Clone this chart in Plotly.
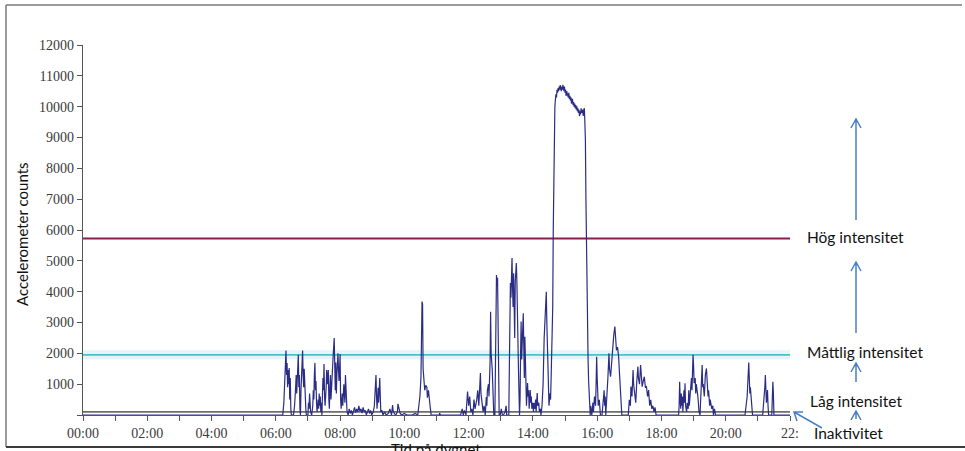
import plotly.graph_objects as go

# ---------------- data (time of day, accelerometer counts) ----------------
night_times = ["00:00", "06:12"]
night_counts = [0, 0]

morning_times = ["06:13","06:15","06:17","06:19","06:20","06:21","06:22","06:23","06:24","06:25","06:26","06:27","06:28","06:29",
                 "06:33","06:35","06:37","06:38","06:39","06:41","06:42","06:43","06:44","06:45","06:46","06:47","06:48","06:50",
                 "06:51","06:52","06:53","06:54","06:55","06:56","06:57","07:00","07:01","07:02","07:03","07:04","07:05","07:07",
                 "07:09","07:10","07:11","07:12","07:13","07:14","07:15","07:16","07:17","07:19","07:20","07:21","07:22","07:23",
                 "07:24","07:25","07:26","07:27","07:28","07:29","07:30","07:31","07:32","07:34","07:35","07:36","07:37","07:38",
                 "07:39","07:40","07:41","07:42","07:43","07:45","07:47","07:49","07:50","07:51","07:52","07:53","07:54","07:56",
                 "07:57","07:58","07:59","08:00","08:01","08:02","08:04","08:05","08:07","08:09","08:10","08:11","08:12","08:13","08:15"]
morning_counts = [0,400,1500,2090,1300,1690,900,1460,1000,1520,500,1200,200,0,
                  0,300,900,1300,700,1500,1950,900,1300,200,0,800,1600,2090,
                  1300,900,1500,700,1000,200,0,0,400,200,700,300,100,0,
                  300,800,500,1300,1690,800,1100,400,100,500,200,700,300,600,
                  100,400,0,600,1200,800,1650,600,300,900,1460,1000,1200,1460,
                  500,200,900,1300,500,1400,1900,2500,1600,800,1700,700,1300,2000,
                  1500,1100,1450,1980,500,200,700,300,1000,400,1300,900,300,100,0]

late_morning_times = ["08:17","08:19","08:21","08:23","08:25","08:27","08:29","08:31","08:33","08:35","08:37","08:39","08:41",
                      "08:43","08:45","08:47","08:49","08:51","08:53","08:55","08:57","08:59",
                      "09:02","09:04","09:05","09:07","09:08","09:09","09:11","09:12","09:14","09:15","09:16","09:18","09:20",
                      "09:23","09:26","09:30","09:33","09:36","09:38","09:39","09:41","09:44","09:47","09:48","09:50","09:52",
                      "09:55","10:00","10:05","10:15","10:20","10:25",
                      "10:27","10:29","10:31","10:33","10:34","10:35","10:37","10:38","10:40","10:42","10:43","10:45","10:48",
                      "10:50","11:05","11:06","11:07","11:45"]
late_morning_counts = [200,50,150,0,100,250,80,200,100,300,120,200,60,
                       250,100,150,0,100,200,50,150,0,
                       100,300,800,1300,600,200,880,400,1200,700,100,150,0,
                       100,0,50,200,0,320,150,50,0,100,360,200,60,
                       0,50,0,0,50,0,
                       300,600,1230,3680,3600,1500,1040,800,960,900,560,800,300,
                       0,0,60,0,0]

midday_times = ["11:48","11:50","11:52","11:55","11:58","12:00","12:02","12:04","12:06","12:08","12:10","12:12","12:15",
                "12:17","12:19","12:21","12:22","12:23","12:25","12:27","12:29","12:31","12:33","12:34","12:35","12:37",
                "12:38","12:40","12:41","12:42","12:44","12:46","12:47","12:49","12:50","12:51","12:52","12:53","12:54",
                "12:55","12:56","12:57","12:59","13:01","13:03","13:05","13:08","13:10","13:11","13:15","13:16","13:17",
                "13:18","13:19","13:20","13:21","13:22","13:23","13:24","13:25","13:26","13:27","13:28","13:29","13:30",
                "13:31","13:33","13:35","13:36","13:37","13:38","13:39","13:40","13:42","13:43","13:44","13:45","13:46",
                "13:47","13:48","13:50","13:51","13:52","13:53","13:55","13:56","13:57","13:58","14:00","14:01","14:02",
                "14:04","14:05","14:06","14:08","14:09","14:11","14:12","14:14","14:15","14:17","14:19","14:21","14:23",
                "14:25","14:26","14:27","14:28","14:29","14:30","14:32","14:33","14:34","14:35","14:36","14:37","14:38","14:39"]
midday_counts = [200,0,150,0,760,300,600,100,200,0,500,200,480,
                 800,300,970,1360,700,400,100,300,0,580,300,800,1000,
                 600,1690,3350,2000,1500,800,0,0,1500,3500,4540,4200,4450,
                 3000,1000,0,0,200,0,0,100,300,0,0,1500,3000,
                 4280,3800,4800,5090,4100,3500,4600,3800,2500,4300,4650,4930,4400,
                 3000,1500,0,500,2000,3030,1800,2600,3300,2200,1200,2540,1500,
                 600,300,1040,600,800,200,810,400,600,200,400,100,390,
                 200,500,100,710,300,400,100,200,0,300,1000,2500,3500,
                 4000,3000,2110,1200,600,300,700,500,1200,1800,2220,3500,6000,8500]

plateau_times = ["14:40","14:41","14:42","14:43","14:44","14:45","14:46","14:47","14:48","14:49","14:50","14:51","14:52",
                 "14:53","14:54","14:55","14:56","14:57","14:58","14:59","15:00","15:01","15:02","15:03","15:04","15:05",
                 "15:06","15:07","15:08","15:09","15:10","15:11","15:12","15:13","15:14","15:15","15:16","15:17","15:18",
                 "15:19","15:20","15:21","15:22","15:23","15:24","15:25","15:26","15:27","15:28","15:29","15:30","15:31",
                 "15:32","15:33","15:34","15:35","15:36","15:37","15:38","15:39","15:40","15:41","15:42","15:43","15:44",
                 "15:45","15:46","15:47"]
plateau_counts = [9360,10000,10230,10400,10300,10550,10450,10600,10500,10650,10550,10700,10600,
                  10500,10650,10550,10710,10600,10500,10650,10450,10550,10350,10500,10400,10390,
                  10300,10450,10250,10350,10200,10300,10100,10250,10230,10050,10150,10000,10100,
                  9950,10050,9900,10010,9850,9950,9800,9900,9690,9850,9750,9950,9800,
                  9900,9850,9700,9900,9950,9500,8930,7000,5140,3500,2500,1790,1100,
                  600,300,0]

afternoon_times = ["15:48","15:50","15:52","15:53","15:55","15:57","15:58","15:59","16:00","16:01","16:02","16:04","16:05",
                   "16:06","16:09","16:11","16:13","16:14","16:15","16:16","16:18","16:20","16:22","16:23","16:25","16:27",
                   "16:29","16:31","16:33","16:34","16:35","16:36","16:38","16:40","16:42","16:44","16:46","16:58","17:00",
                   "17:02","17:03","17:05","17:07","17:08","17:10","17:12","17:14","17:16","17:17","17:19","17:21","17:22",
                   "17:24","17:26","17:28","17:30","17:32","17:34","17:36","17:38","17:40","17:42","17:44","17:46","17:48","17:50"]
afternoon_counts = [300,0,400,100,600,300,1000,1890,1200,810,300,490,100,
                    0,0,400,800,300,600,0,500,1200,2000,1500,1240,1800,
                    2220,2600,2870,2500,2330,2100,2200,1890,1240,600,0,0,490,
                    300,920,600,1460,1000,600,400,1100,1570,1200,1000,1620,1300,
                    920,1100,1240,900,920,600,810,300,490,200,300,100,250,0]

evening_times = ["18:32","18:33","18:34","18:35","18:36","18:37","18:38","18:39","18:40","18:42","18:43","18:44","18:45",
                 "18:47","18:48","18:50","18:51","18:52","18:54","18:56","18:57","18:59","19:00","19:01","19:03","19:04",
                 "19:05","19:07","19:08","19:09","19:10","19:12","19:14","19:16","19:17","19:18","19:20","19:22","19:24",
                 "19:25","19:26","19:27","19:28","19:30","19:31","19:33","19:34","19:36","19:37","19:39","19:41"]
evening_counts = [0,300,1080,500,200,700,300,600,100,800,400,1030,300,
                  100,390,200,800,300,700,1200,800,1950,1600,1030,1200,700,
                  1000,810,600,390,100,0,600,1620,900,1000,600,1300,1510,
                  1000,1100,600,800,300,500,300,200,300,0,200,0]

night2_times = ["20:36","20:38","20:40","20:43","20:44","20:45","20:46","20:48","20:50","21:09","21:11","21:13","21:14",
                "21:15","21:16","21:17","21:18","21:19","21:20","21:26","21:27","21:28","21:29","21:30","22:00"]
night2_counts = [0,300,600,1700,1300,700,900,300,0,0,400,900,1300,
                 1000,400,600,810,300,0,0,500,1080,700,0,0]

# thresholds (counts per minute)
threshold_values = [100, 1952, 5725]
threshold_colors = ["#6e6e6e", "#45c3cc", "#8c1d4e"]

x_tick_values = [0, 2, 4, 6, 8, 10, 12, 14, 16, 18, 20, 22]
x_tick_labels = ["00:00", "02:00", "04:00", "06:00", "08:00", "10:00", "12:00",
                 "14:00", "16:00", "18:00", "20:00", "22:"]
y_tick_values = [0, 1000, 2000, 3000, 4000, 5000, 6000, 7000, 8000, 9000, 10000, 11000, 12000]
y_tick_labels = [""] + [str(v) for v in y_tick_values[1:]]

zone_labels = ["Hög intensitet", "Måttlig intensitet", "Låg intensitet", "Inaktivitet"]

# ---------------- build ----------------
all_times = (night_times + morning_times + late_morning_times + midday_times +
             plateau_times + afternoon_times + ["18:00"] + evening_times + ["20:00"] + night2_times)
all_counts = (night_counts + morning_counts + late_morning_counts + midday_counts +
              plateau_counts + afternoon_counts + [0] + evening_counts + [0] + night2_counts)

def to_hours(t):
    h, m = t.split(":")
    return int(h) + int(m) / 60.0

xs = [to_hours(t) for t in all_times]

W, H = 965, 451
L, R, T, B = 83, 175, 45, 36
PW, PH = W - L - R, H - T - B

def px(x):
    return (x - L) / PW

def py(y):
    return (H - B - y) / PH

fig = go.Figure()

# soft halo around moderate threshold
fig.add_trace(go.Scatter(x=[0, 22], y=[threshold_values[1]] * 2, mode="lines",
                         line=dict(color="rgba(200,228,240,0.45)", width=9),
                         hoverinfo="skip", showlegend=False, cliponaxis=False))

for v, c in zip(threshold_values, threshold_colors):
    fig.add_trace(go.Scatter(x=[0, 22.1 if v == 100 else 22], y=[v, v], mode="lines",
                             line=dict(color=c, width=1.8),
                             hoverinfo="skip", showlegend=False, cliponaxis=False))

fig.add_trace(go.Scatter(x=xs, y=all_counts, mode="lines",
                         line=dict(color="#2b2d84", width=1.2),
                         showlegend=False))

# frame around whole picture
shapes = [dict(type="line", xref="paper", yref="paper", x0=px(6), x1=px(962), y0=py(5), y1=py(5),
               line=dict(color="#7a7a7a", width=1.5)),
          dict(type="line", xref="paper", yref="paper", x0=px(6), x1=px(6), y0=py(5), y1=py(447),
               line=dict(color="#7a7a7a", width=1.5)),
          dict(type="line", xref="paper", yref="paper", x0=px(6), x1=px(965), y0=py(447), y1=py(447),
               line=dict(color="#3a3a3a", width=2))]

arrow_color = "#4a80c0"

def up_arrow(x, y_from, y_to):
    path = (f"M {px(x)} {py(y_from)} L {px(x)} {py(y_to)} "
            f"M {px(x - 5)} {py(y_to + 9)} L {px(x)} {py(y_to)} L {px(x + 5)} {py(y_to + 9)}")
    return dict(type="path", xref="paper", yref="paper", path=path,
                line=dict(color=arrow_color, width=1.5))

shapes += [up_arrow(856, 220, 119), up_arrow(856, 333, 262),
           up_arrow(856, 382, 363), up_arrow(856, 419, 411)]
# diagonal arrow to inactivity line
shapes.append(dict(type="path", xref="paper", yref="paper",
                   path=(f"M {px(822)} {py(428)} L {px(794)} {py(412)} "
                         f"M {px(797)} {py(421)} L {px(794)} {py(412)} L {px(803)} {py(412)}"),
                   line=dict(color=arrow_color, width=1.5)))

annotations = []
label_pos = [(805, 237), (805, 352), (808, 401), (812, 433)]
for txt, (lx, ly) in zip(zone_labels, label_pos):
    annotations.append(dict(text=txt, xref="paper", yref="paper", x=px(lx), y=py(ly),
                            xanchor="left", yanchor="middle", showarrow=False,
                            font=dict(family="Lato", size=15.5, color="#111111")))

annotations.append(dict(text="Accelerometer counts", xref="paper", yref="paper",
                        x=px(22), y=py(234), textangle=-90, xanchor="center", yanchor="middle",
                        showarrow=False, font=dict(family="Lato", size=15, color="#111111")))
annotations.append(dict(text="Tid på dygnet", xref="paper", yref="paper",
                        x=px(436), y=py(438), xanchor="center", yanchor="top",
                        showarrow=False, font=dict(family="Lato", size=15, color="#111111")))

tickfont = dict(family="Liberation Serif, Times New Roman, serif", size=14, color="#3a3a3a")

fig.update_layout(
    width=W, height=H,
    margin=dict(l=L, r=R, t=T, b=B, autoexpand=False),
    paper_bgcolor="white", plot_bgcolor="white",
    shapes=shapes, annotations=annotations,
    xaxis=dict(range=[0, 22], tickmode="array", tickvals=x_tick_values, ticktext=x_tick_labels,
               showline=True, linecolor="#555555", linewidth=1.2, ticks="outside", ticklen=5,
               tickcolor="#555555", tickfont=tickfont, showgrid=False, zeroline=False,
               minor=dict(tickmode="array", tickvals=[1, 3, 5, 7, 9, 11, 13, 15, 17, 19, 21],
                          ticks="outside", ticklen=5, tickcolor="#555555", showgrid=False)),
    yaxis=dict(range=[0, 12000], tickmode="array", tickvals=y_tick_values, ticktext=y_tick_labels,
               showline=True, linecolor="#555555", linewidth=1.2, ticks="outside", ticklen=5,
               tickcolor="#555555", tickfont=tickfont, showgrid=False, zeroline=False),
)

fig.write_html("out.html", config={"displayModeBar": False},
               post_script="document.body.style.margin='0';document.body.style.overflow='hidden';")
